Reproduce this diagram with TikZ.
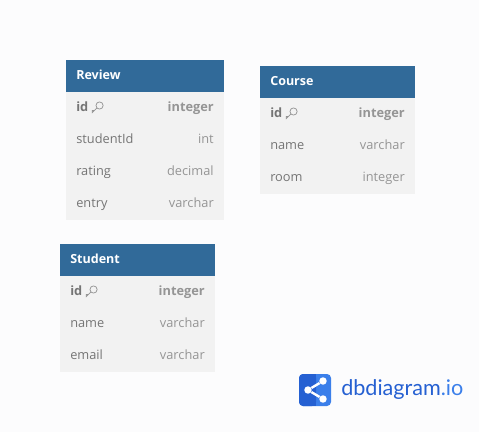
\documentclass[tikz,border=0pt]{standalone}
\usepackage{fontspec}
\setmainfont{Open Sans}
\newfontfamily\logofont{Lato}
\usepackage{xcolor}
\usetikzlibrary{positioning, calc}
\definecolor{headblue}{HTML}{316A99}
\definecolor{rowgray}{HTML}{F2F2F2}
\definecolor{pagegray}{HTML}{FCFCFD}
\definecolor{namegray}{HTML}{757575}
\definecolor{typegray}{HTML}{959595}
\definecolor{logodark}{HTML}{2560D2}
\definecolor{logolight}{HTML}{3B7FEA}
\tikzset{
    header/.style={
        rectangle,
        fill=headblue,
        minimum height=24pt,
        inner sep=0pt,
        outer sep=0pt
    },
    headtext/.style={
        text=white,
        inner sep=0pt,
        text height=7pt,
        text depth=2pt,
        font=\fontsize{9.4pt}{11pt}\selectfont\bfseries
    },
    row/.style={
        rectangle,
        fill=rowgray,
        minimum height=24pt,
        inner sep=0pt,
        outer sep=0pt
    },
    fieldname/.style={
        text=namegray,
        inner sep=0pt,
        text height=7pt,
        text depth=2pt,
        font=\fontsize{9.6pt}{11pt}\selectfont
    },
    fieldtype/.style={
        text=typegray,
        inner sep=0pt,
        text height=7pt,
        text depth=2pt,
        font=\fontsize{9.6pt}{11pt}\selectfont
    },
    pkey/.style={
        font=\fontsize{9.6pt}{11pt}\selectfont\bfseries
    },
    keyicon/.style={
        draw=typegray,
        line width=0.55pt
    },
    sharedot/.style={
        circle,
        fill=white,
        minimum size=5.6pt,
        inner sep=0pt
    },
    shareline/.style={
        draw=white,
        line width=1.8pt
    }
}
% small key drawn right of a primary key name
\newcommand{\keymark}[1]{%
    \draw[keyicon] ($(#1.east)+(11,-2.5)$) circle (3.6);
    \draw[keyicon] ($(#1.east)+(8.4,0)$) -- ++(-4.6,4.6) -- ++(0,-2) -- ++(2,0);
}

\begin{document}
\begin{tikzpicture}[x=0.75pt, y=-0.75pt]

\fill[pagegray] (0,0) rectangle (479,432);
\useasboundingbox (0,0) rectangle (479,432);

% Review
\node[header, minimum width=118.5pt, anchor=north west] (review) at (66,60) {};
\node[row, minimum width=118.5pt, below=0pt of review] (rv1) {};
\node[row, minimum width=118.5pt, below=0pt of rv1] (rv2) {};
\node[row, minimum width=118.5pt, below=0pt of rv2] (rv3) {};
\node[row, minimum width=118.5pt, below=0pt of rv3] (rv4) {};
\node[headtext, right=7.5pt of review.west] (reviewt) {Review};
\node[fieldname, pkey, right=7.5pt of rv1.west] (rvid) {id};
\node[fieldtype, pkey, left=7.5pt of rv1.east] (rvidt) {integer};
\node[fieldname, right=7.5pt of rv2.west] (rvstudent) {studentId};
\node[fieldtype, left=7.5pt of rv2.east] (rvstudentt) {int};
\node[fieldname, right=7.5pt of rv3.west] (rvrating) {rating};
\node[fieldtype, left=7.5pt of rv3.east] (rvratingt) {decimal};
\node[fieldname, right=7.5pt of rv4.west] (rventry) {entry};
\node[fieldtype, left=7.5pt of rv4.east] (rventryt) {varchar};
\keymark{rvid}

% Course
\node[header, minimum width=116.25pt, anchor=north west] (course) at (260,66) {};
\node[row, minimum width=116.25pt, below=0pt of course] (cr1) {};
\node[row, minimum width=116.25pt, below=0pt of cr1] (cr2) {};
\node[row, minimum width=116.25pt, below=0pt of cr2] (cr3) {};
\node[headtext, right=7.5pt of course.west] (courset) {Course};
\node[fieldname, pkey, right=7.5pt of cr1.west] (crid) {id};
\node[fieldtype, pkey, left=7.5pt of cr1.east] (cridt) {integer};
\node[fieldname, right=7.5pt of cr2.west] (crname) {name};
\node[fieldtype, left=7.5pt of cr2.east] (crnamet) {varchar};
\node[fieldname, right=7.5pt of cr3.west] (crroom) {room};
\node[fieldtype, left=7.5pt of cr3.east] (crroomt) {integer};
\keymark{crid}

% Student
\node[header, minimum width=116.25pt, anchor=north west] (student) at (60,244) {};
\node[row, minimum width=116.25pt, below=0pt of student] (st1) {};
\node[row, minimum width=116.25pt, below=0pt of st1] (st2) {};
\node[row, minimum width=116.25pt, below=0pt of st2] (st3) {};
\node[headtext, right=7.5pt of student.west] (studentt) {Student};
\node[fieldname, pkey, right=7.5pt of st1.west] (stid) {id};
\node[fieldtype, pkey, left=7.5pt of st1.east] (stidt) {integer};
\node[fieldname, right=7.5pt of st2.west] (stname) {name};
\node[fieldtype, left=7.5pt of st2.east] (stnamet) {varchar};
\node[fieldname, right=7.5pt of st3.west] (stemail) {email};
\node[fieldtype, left=7.5pt of st3.east] (stemailt) {varchar};
\keymark{stid}

% logo
\fill[logolight, rounded corners=3pt] (299,374) rectangle (331,406);
\fill[logodark, rounded corners=3pt] (299,374) rectangle (316,406);
\fill[logodark] (310,374) rectangle (316,406);
\node[sharedot] (hub) at (308,390) {};
\node[sharedot] (top) at (323,381) {};
\node[sharedot] (bot) at (323,399) {};
\draw[shareline] (hub) -- (top);
\draw[shareline] (hub) -- (bot);
\node[anchor=west, inner sep=0pt, font=\logofont\fontsize{16.2pt}{18pt}\selectfont] (logo) at (341,390) {\textcolor{logodark}{dbdiagram}\textcolor{logolight}{.io}};

\end{tikzpicture}
\end{document}
